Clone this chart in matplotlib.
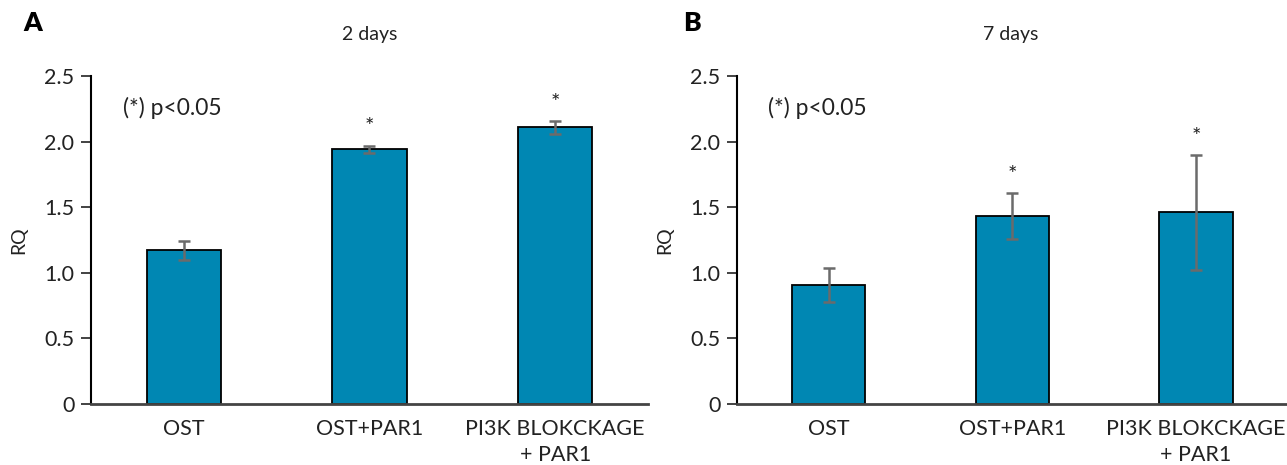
import matplotlib
matplotlib.use("Agg")
import matplotlib.pyplot as plt

plt.rcParams['font.family'] = ['Lato', 'DejaVu Sans']

groups = ["OST", "OST+PAR1", "PI3K BLOKCKAGE\n+ PAR1"]

rq_2d = [1.17, 1.94, 2.11]
err_2d = [0.075, 0.03, 0.05]
sig_2d = [False, True, True]

rq_7d = [0.91, 1.43, 1.46]
err_7d = [0.13, 0.175, 0.44]
sig_7d = [False, True, True]

bar_color = "#0087b3"
err_color = "#6b6b6b"

fig = plt.figure(figsize=(12.87, 4.65), dpi=100)
ax_a = fig.add_axes([0.0707, 0.1312, 0.4328, 0.7054])
ax_b = fig.add_axes([0.5726, 0.1312, 0.4281, 0.7054])


def draw_panel(ax, vals, errs, sigs):
	x = list(range(len(groups)))
	ax.bar(x, vals, width=0.4, color=bar_color, edgecolor="black", linewidth=1.3, zorder=2)
	ax.errorbar(x, vals, yerr=errs, fmt="none", ecolor=err_color, elinewidth=1.8,
		capsize=4.5, capthick=1.8, zorder=3)
	for xi, v, e, s in zip(x, vals, errs, sigs):
		if s:
			ax.annotate("*", (xi, v + e), xytext=(0, 13), textcoords="offset points",
				ha="center", va="center", fontsize=16, color="#222222")
	ax.set_xlim(-0.5, 2.5)
	ax.set_ylim(0, 2.5)
	ax.set_yticks([0, 0.5, 1.0, 1.5, 2.0, 2.5])
	ax.set_yticklabels(["0", "0.5", "1.0", "1.5", "2.0", "2.5"])
	ax.set_xticks(x)
	ax.set_xticklabels(groups, fontsize=15.5, color="#222222", linespacing=1.35)
	ax.tick_params(axis="x", length=0, pad=11)
	ax.tick_params(axis="y", length=7, width=1.2, labelsize=15.5, colors="#222222", pad=5)
	ax.spines["top"].set_visible(False)
	ax.spines["right"].set_visible(False)
	ax.spines["left"].set_linewidth(1.5)
	ax.spines["left"].set_color("black")
	ax.spines["bottom"].set_linewidth(2)
	ax.spines["bottom"].set_color("#444444")
	ax.set_ylabel("RQ", fontsize=14, color="#222222", labelpad=12)
	ax.text(-0.33, 2.26, "(*) p<0.05", ha="left", va="center", fontsize=16.5, color="#222222")


draw_panel(ax_a, rq_2d, err_2d, sig_2d)
draw_panel(ax_b, rq_7d, err_7d, sig_7d)

fig.text(0.287, 0.925, "2 days", ha="center", va="center", fontsize=14, color="#222222")
fig.text(0.785, 0.925, "7 days", ha="center", va="center", fontsize=14, color="#222222")
fig.text(0.018, 0.95, "A", ha="left", va="center", fontsize=19, fontweight="heavy")
fig.text(0.531, 0.95, "B", ha="left", va="center", fontsize=19, fontweight="heavy")

fig.savefig("out.png", dpi=100)
